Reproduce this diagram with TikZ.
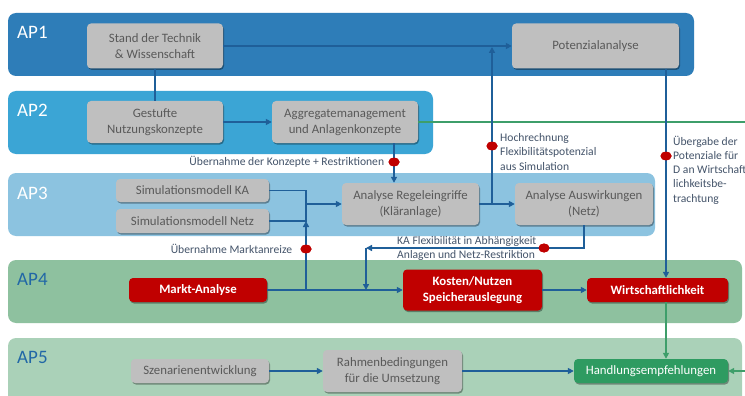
\documentclass[tikz,border=0pt]{standalone}
\usepackage{fontspec}
\setmainfont{Carlito}
\usepackage{tikz}
\usetikzlibrary{arrows.meta,positioning,shapes.geometric,shadows}
\definecolor{apone}{HTML}{2E7DB8}
\definecolor{aptwo}{HTML}{3BA5D5}
\definecolor{apthree}{HTML}{8CC3E0}
\definecolor{apfour}{HTML}{8EC19F}
\definecolor{apfive}{HTML}{AAD1B8}
\definecolor{apblue}{HTML}{2167A6}
\definecolor{boxgray}{HTML}{BFBFBF}
\definecolor{boxtext}{HTML}{595959}
\definecolor{lbltext}{HTML}{44546A}
\definecolor{lnblue}{HTML}{1F5F99}
\definecolor{kred}{HTML}{C00000}
\definecolor{lngreen}{HTML}{3E9E6A}
\definecolor{hgreen}{HTML}{2E9B61}
\tikzset{
  band/.style={rounded corners=8pt},
  aplbl/.style={anchor=west,inner sep=0pt,font=\fontsize{19}{21}\selectfont},
  box/.style={fill=boxgray,text=boxtext,rounded corners=4pt,align=center,inner sep=2pt,font=\fontsize{12.8}{16}\selectfont,drop shadow={shadow xshift=1pt,shadow yshift=-1.5pt,opacity=.35,fill=black}},
  redbox/.style={box,fill=kred,text=white,font=\fontsize{12.8}{16}\selectfont\bfseries},
  greenbox/.style={box,fill=hgreen,text=white},
  line/.style={draw=lnblue,line width=1.6pt},
  arr/.style={line,-{Triangle[length=6pt,width=6pt]}},
  garr/.style={draw=lngreen,line width=1.6pt,-{Triangle[length=6pt,width=6pt]}},
  reddot/.style={ellipse,fill=kred,inner sep=0pt,minimum width=11pt,minimum height=9pt},
  lbl/.style={text=lbltext,inner sep=0pt,align=left,font=\fontsize{11.6}{14.3}\selectfont},
}

\begin{document}
\begin{tikzpicture}[x=1pt,y=-1pt]
\clip (0,0) rectangle (745,396);
\fill[white] (0,0) rectangle (745,396);

% AP bands
\fill[band,apone] (8,13) rectangle (694,76);
\fill[band,aptwo] (8,91) rectangle (433,154);
\fill[band,apthree] (8,173) rectangle (655,236);
\fill[band,apfour] (8,260) rectangle (742,323);
\fill[band,apfive] (8,338) rectangle (742,410);
\node[aplbl,text=white] (ap1) at (17,32) {AP1};
\node[aplbl,text=white] (ap2) at (17,110) {AP2};
\node[aplbl,text=white] (ap3) at (17,193) {AP3};
\node[aplbl,text=apblue] (ap4) at (17,279) {AP4};
\node[aplbl,text=apblue] (ap5) at (17,357) {AP5};

% boxes
\node[box,minimum width=136pt,minimum height=45pt] (stand) at (155,46) {Stand der Technik\\\& Wissenschaft};
\node[box,minimum width=167pt,minimum height=45pt] (pot) at (595.5,46) {Potenzialanalyse};
\node[box,minimum width=136pt,minimum height=42pt] (gest) at (155,122) {Gestufte\\Nutzungskonzepte};
\node[box,minimum width=146pt,minimum height=42pt] (agg) at (345,122) {Aggregatemanagement\\und Anlagenkonzepte};
\node[box,minimum width=153pt,minimum height=23pt] (simka) at (192.5,190.5) {Simulationsmodell KA};
\node[box,minimum width=153pt,minimum height=24pt] (simnetz) at (192.5,221) {Simulationsmodell Netz};
\node[box,minimum width=137pt,minimum height=42pt] (regel) at (410.5,204) {Analyse Regeleingriffe\\(Kläranlage)};
\node[box,minimum width=138pt,minimum height=42pt] (ausw) at (584,204) {Analyse Auswirkungen\\(Netz)};
\node[redbox,minimum width=138pt,minimum height=24pt] (markt) at (198,290) {Markt-Analyse};
\node[redbox,minimum width=139pt,minimum height=41pt] (kosten) at (472.5,290) {Kosten/Nutzen\\Speicherauslegung};
\node[redbox,minimum width=141pt,minimum height=24pt] (wirt) at (657.5,290) {Wirtschaftlichkeit};
\node[box,minimum width=138pt,minimum height=24pt] (szen) at (200,371) {Szenarienentwicklung};
\node[box,minimum width=139pt,minimum height=42pt] (rahmen) at (392.5,371) {Rahmenbedingungen\\für die Umsetzung};
\node[greenbox,minimum width=154pt,minimum height=24pt] (hand) at (651,371) {Handlungsempfehlungen};

% dots and turn points
\node[reddot] (dkonz) at (394,162) {};
\node[reddot] (dhoch) at (492,146) {};
\node[reddot] (dueber) at (666,156) {};
\node[reddot] (dmarkt) at (306,249) {};
\node[reddot] (dflex) at (544,248) {};
\coordinate (merge) at (306,204);
\coordinate (kaflex) at (366,248);
\coordinate (gout) at (760,122);

% connectors
\draw[arr] (stand) -- (pot);
\draw[line] (stand) -- (gest);
\draw[arr] (gest) -- (agg);
\draw[garr] (agg.east) -- (gout) |- (hand.east);
\draw[arr] (agg.south -| dkonz) -- (regel.north -| dkonz);
\draw[line] (simka.east) -| (merge) |- (simnetz.east);
\draw[arr] (merge) -- (regel);
\draw[arr] (markt.east -| dmarkt) -- (dmarkt |- simnetz.east);
\draw[arr] (regel) -- (ausw);
\draw[arr,shorten >=1pt] (regel.east -| dhoch) -- (stand.east -| dhoch);
\draw[arr] (ausw.south) |- (kaflex);
\draw[arr] (kaflex) -- (kaflex |- markt.east);
\draw[arr] (pot.south -| dueber) -- (wirt.north -| dueber);
\draw[arr] (markt) -- (kosten);
\draw[arr] (kosten) -- (wirt);
\draw[garr] (wirt.south -| dueber) -- (hand.north -| dueber);
\draw[arr] (szen) -- (rahmen);
\draw[arr] (rahmen) -- (hand);

% dots on top of the lines
\foreach \d in {dkonz,dhoch,dueber,dmarkt,dflex}
  \fill[kred] (\d) ellipse (5.5pt and 4.5pt);

% labels
\node[lbl,left=4pt of dkonz] (lkonz) {Übernahme der Konzepte + Restriktionen};
\node[lbl,anchor=west] (lhoch) at (500,152) {Hochrechnung\\Flexibilitätspotenzial\\aus Simulation};
\node[lbl,anchor=west] (lueber) at (673,170) {Übergabe der\\Potenziale für\\D an Wirtschaft\\lichkeitsbe-\\trachtung};
\node[lbl,left=8pt of dmarkt] (lmarkt) {Übernahme Marktanreize};
\node[lbl,anchor=west] (lflex) at (397,248.5) {KA Flexibilität in Abhängigkeit\\Anlagen und Netz-Restriktion};
\end{tikzpicture}
\end{document}
